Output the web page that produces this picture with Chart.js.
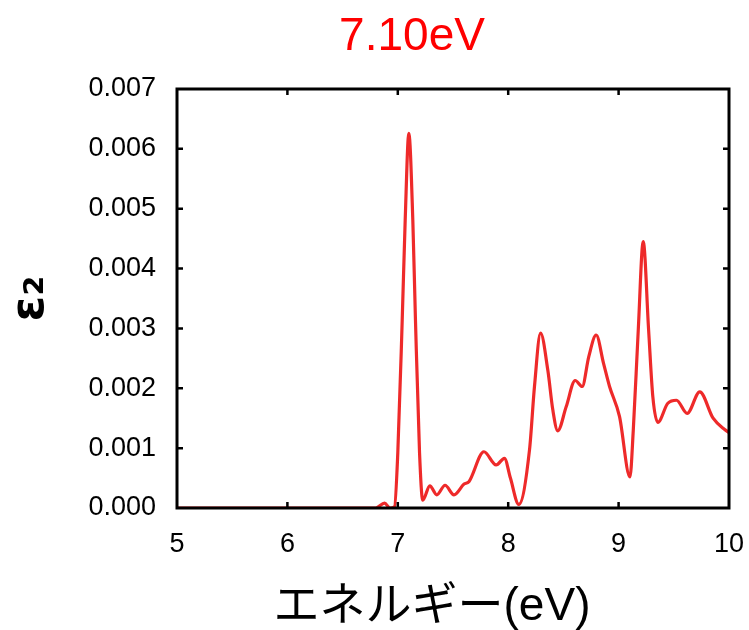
<!DOCTYPE html>
<html>
<head>
<meta charset="utf-8">
<script src="https://cdn.jsdelivr.net/npm/chart.js@4.4.1/dist/chart.umd.min.js"></script>
<style>
  body { margin: 0; background: #fff; }
  #wrap { width: 749px; height: 630px; }
</style>
</head>
<body>
<div id="wrap"><canvas id="chart" width="749" height="630"></canvas></div>
<script>
// values
const energy = [5.0, 6.8, 6.88, 6.93, 6.97, 7.0, 7.04, 7.067, 7.1, 7.136, 7.16, 7.197, 7.226,
  7.29, 7.353, 7.428, 7.509, 7.6, 7.644, 7.78, 7.891, 7.966, 8.02, 8.096, 8.193, 8.238, 8.293,
  8.359, 8.404, 8.449, 8.525, 8.607, 8.67, 8.73, 8.797, 8.863, 8.918, 9.008, 9.103, 9.133,
  9.178, 9.223, 9.272, 9.31, 9.355, 9.446, 9.524, 9.621, 9.735, 9.856, 9.961, 10.0];
const eps2 = [0, 0, 0.00008, 0, 0.00002, 0.00092, 0.00314, 0.00481, 0.00626, 0.00481, 0.00314, 0.00092, 0.00013,
  0.00037, 0.00022, 0.00038, 0.00022, 0.0004, 0.00044, 0.00094, 0.00072, 0.00083, 0.0005, 0.00006, 0.00097, 0.00203, 0.00292,
  0.0023, 0.00164, 0.00129, 0.00169, 0.00213, 0.00203, 0.00253, 0.00289, 0.00242, 0.00203, 0.00153, 0.00052, 0.0013,
  0.00297, 0.00445, 0.00297, 0.00186, 0.00143, 0.00175, 0.0018, 0.00158, 0.00194, 0.0015, 0.00131, 0.00126];

const xTicks = [5, 6, 7, 8, 9, 10];
const yTicks = [0, 0.001, 0.002, 0.003, 0.004, 0.005, 0.006, 0.007];

const chartTitle = "7.10eV";
const xTitle = "エネルギー(eV)";
const yTitle = "ε₂";

// frame, inward ticks and the two titles drawn over the plot
const framePlugin = {
  id: "frame",
  afterDraw(chart) {
    const { ctx, chartArea: a, scales: { x, y } } = chart;
    ctx.save();
    ctx.strokeStyle = "#000";
    ctx.lineWidth = 2.5;
    ctx.beginPath();
    xTicks.slice(1, -1).forEach(v => {
      const px = x.getPixelForValue(v);
      ctx.moveTo(px, a.bottom); ctx.lineTo(px, a.bottom - 6);
      ctx.moveTo(px, a.top);    ctx.lineTo(px, a.top + 6);
    });
    yTicks.slice(1, -1).forEach(v => {
      const py = y.getPixelForValue(v);
      ctx.moveTo(a.left, py);  ctx.lineTo(a.left + 6, py);
      ctx.moveTo(a.right, py); ctx.lineTo(a.right - 6, py);
    });
    ctx.stroke();
    ctx.lineWidth = 3;
    ctx.strokeRect(a.left, a.top, a.right - a.left, a.bottom - a.top);

    ctx.textAlign = "center";
    ctx.textBaseline = "alphabetic";
    ctx.fillStyle = "#ff0000";
    ctx.font = "46px 'Liberation Sans', Arial, sans-serif";
    ctx.fillText(chartTitle, 412, 50);
    ctx.fillStyle = "#000";
    ctx.font = "46px 'Liberation Sans', 'Noto Sans CJK JP', sans-serif";
    ctx.fillText(xTitle, 432, 620);
    ctx.restore();
  }
};

const tickFont = { family: "'Liberation Sans', Arial, sans-serif", size: 27 };

new Chart(document.getElementById("chart"), {
  type: "line",
  data: {
    datasets: [{
      data: energy.map((e, i) => ({ x: e, y: eps2[i] })),
      borderColor: "#ee2a2a",
      borderWidth: 3.2,
      pointRadius: 0,
      cubicInterpolationMode: "monotone",
      fill: false
    }]
  },
  options: {
    responsive: false,
    animation: false,
    layout: { padding: { top: 89, right: 20, left: 0, bottom: 0 } },
    plugins: { legend: { display: false }, tooltip: { enabled: false } },
    scales: {
      x: {
        type: "linear", min: 5, max: 10,
        afterBuildTicks: s => { s.ticks = xTicks.map(v => ({ value: v })); },
        afterFit: s => { s.height = 122; s.paddingRight = 0; s.paddingLeft = 0; },
        grid: { display: false, drawTicks: false },
        border: { display: false },
        ticks: { padding: 20, font: tickFont, color: "#000", maxRotation: 0 }
      },
      y: {
        min: 0, max: 0.007,
        afterBuildTicks: s => { s.ticks = yTicks.map(v => ({ value: v })); },
        afterFit: s => { s.width = 177; },
        grid: { display: false, drawTicks: false },
        border: { display: false },
        ticks: { padding: 21, font: tickFont, color: "#000", callback: v => v.toFixed(3) },
        title: {
          display: true, text: yTitle, color: "#000",
          font: { family: "'DejaVu Sans', sans-serif", size: 46, weight: "bold" },
          padding: { top: 3, bottom: 0 }
        }
      }
    }
  },
  plugins: [framePlugin]
});
</script>
</body>
</html>
